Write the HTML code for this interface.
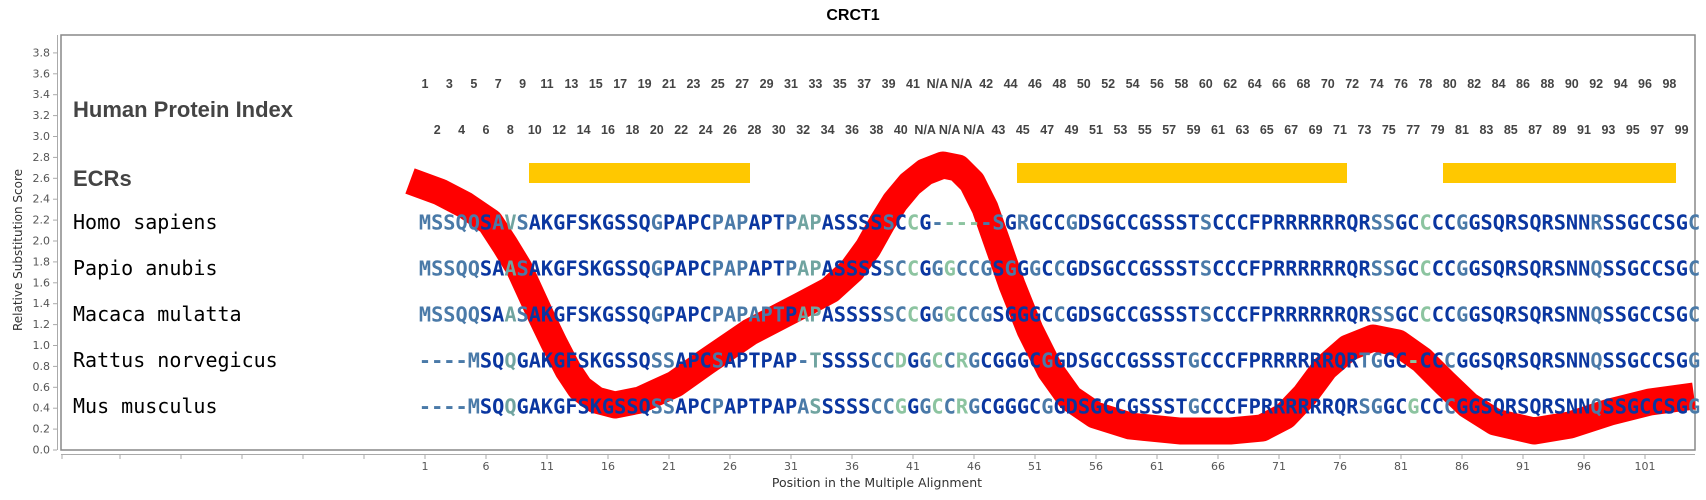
<!DOCTYPE html>
<html><head><meta charset="utf-8"><style>
body{margin:0;background:#fff}
svg{display:block}
.sq{font-family:"DejaVu Sans Mono",monospace;font-weight:bold;font-size:20.27px;fill:#0a36a0}
.b{fill:#4a7aa8}.c{fill:#8cc4a0}.d{fill:#70a4a0}
.lab{font-family:"DejaVu Sans Mono",monospace;font-size:20px;fill:#000}
.idx{font-family:"Liberation Sans",sans-serif;font-weight:bold;font-size:12.5px;fill:#444;text-anchor:middle}
.tk{font-family:"DejaVu Sans",sans-serif;font-size:11px;fill:#555}
</style></head><body>
<svg width="1706" height="500" viewBox="0 0 1706 500" xmlns="http://www.w3.org/2000/svg">
<text x="853" y="20" text-anchor="middle" font-family="Liberation Sans,sans-serif" font-weight="bold" font-size="16" fill="#000">CRCT1</text>
<rect x="61" y="35" width="1634" height="415" fill="#fff" stroke="#888" stroke-width="1.5"/>
<line x1="57.5" y1="35" x2="57.5" y2="450" stroke="#aaa"/>
<g class="tk" text-anchor="end">
<text x="50" y="453.5">0.0</text><text x="50" y="432.6">0.2</text><text x="50" y="411.7">0.4</text><text x="50" y="390.8">0.6</text><text x="50" y="369.9">0.8</text><text x="50" y="349">1.0</text><text x="50" y="328.1">1.2</text><text x="50" y="307.2">1.4</text><text x="50" y="286.3">1.6</text><text x="50" y="265.4">1.8</text><text x="50" y="244.5">2.0</text><text x="50" y="223.6">2.2</text><text x="50" y="202.7">2.4</text><text x="50" y="181.8">2.6</text><text x="50" y="160.9">2.8</text><text x="50" y="140">3.0</text><text x="50" y="119.1">3.2</text><text x="50" y="98.2">3.4</text><text x="50" y="77.3">3.6</text><text x="50" y="56.4">3.8</text>
</g>
<g stroke="#aaa">
<line x1="53" y1="450" x2="57" y2="450"/><line x1="53" y1="429.1" x2="57" y2="429.1"/><line x1="53" y1="408.2" x2="57" y2="408.2"/><line x1="53" y1="387.3" x2="57" y2="387.3"/><line x1="53" y1="366.4" x2="57" y2="366.4"/><line x1="53" y1="345.5" x2="57" y2="345.5"/><line x1="53" y1="324.6" x2="57" y2="324.6"/><line x1="53" y1="303.7" x2="57" y2="303.7"/><line x1="53" y1="282.8" x2="57" y2="282.8"/><line x1="53" y1="261.9" x2="57" y2="261.9"/><line x1="53" y1="241" x2="57" y2="241"/><line x1="53" y1="220.1" x2="57" y2="220.1"/><line x1="53" y1="199.2" x2="57" y2="199.2"/><line x1="53" y1="178.3" x2="57" y2="178.3"/><line x1="53" y1="157.4" x2="57" y2="157.4"/><line x1="53" y1="136.5" x2="57" y2="136.5"/><line x1="53" y1="115.6" x2="57" y2="115.6"/><line x1="53" y1="94.7" x2="57" y2="94.7"/><line x1="53" y1="73.8" x2="57" y2="73.8"/><line x1="53" y1="52.9" x2="57" y2="52.9"/>
</g>
<text transform="translate(22,250) rotate(-90)" text-anchor="middle" font-family="DejaVu Sans,sans-serif" font-size="12" fill="#333">Relative Substitution Score</text>
<line x1="61" y1="454.5" x2="1695" y2="454.5" stroke="#aaa"/>
<g stroke="#aaa">
<line x1="62" y1="454" x2="62" y2="459"/><line x1="120" y1="454" x2="120" y2="459"/><line x1="181" y1="454" x2="181" y2="459"/><line x1="242" y1="454" x2="242" y2="459"/><line x1="303" y1="454" x2="303" y2="459"/><line x1="364" y1="454" x2="364" y2="459"/>
<line x1="425" y1="454" x2="425" y2="459"/><line x1="486" y1="454" x2="486" y2="459"/><line x1="547" y1="454" x2="547" y2="459"/><line x1="608" y1="454" x2="608" y2="459"/><line x1="669" y1="454" x2="669" y2="459"/><line x1="730" y1="454" x2="730" y2="459"/><line x1="791" y1="454" x2="791" y2="459"/><line x1="852" y1="454" x2="852" y2="459"/><line x1="913" y1="454" x2="913" y2="459"/><line x1="974" y1="454" x2="974" y2="459"/><line x1="1035" y1="454" x2="1035" y2="459"/><line x1="1096" y1="454" x2="1096" y2="459"/><line x1="1157" y1="454" x2="1157" y2="459"/><line x1="1218" y1="454" x2="1218" y2="459"/><line x1="1279" y1="454" x2="1279" y2="459"/><line x1="1340" y1="454" x2="1340" y2="459"/><line x1="1401" y1="454" x2="1401" y2="459"/><line x1="1462" y1="454" x2="1462" y2="459"/><line x1="1523" y1="454" x2="1523" y2="459"/><line x1="1584" y1="454" x2="1584" y2="459"/><line x1="1645" y1="454" x2="1645" y2="459"/>
</g>
<g class="tk" text-anchor="middle" font-size="12">
<text x="425" y="470">1</text><text x="486" y="470">6</text><text x="547" y="470">11</text><text x="608" y="470">16</text><text x="669" y="470">21</text><text x="730" y="470">26</text><text x="791" y="470">31</text><text x="852" y="470">36</text><text x="913" y="470">41</text><text x="974" y="470">46</text><text x="1035" y="470">51</text><text x="1096" y="470">56</text><text x="1157" y="470">61</text><text x="1218" y="470">66</text><text x="1279" y="470">71</text><text x="1340" y="470">76</text><text x="1401" y="470">81</text><text x="1462" y="470">86</text><text x="1523" y="470">91</text><text x="1584" y="470">96</text><text x="1645" y="470">101</text>
</g>
<text x="877" y="487" text-anchor="middle" font-family="DejaVu Sans,sans-serif" font-size="12.5" fill="#333">Position in the Multiple Alignment</text>

<text x="73" y="117" font-family="Liberation Sans,sans-serif" font-weight="bold" font-size="22" fill="#444">Human Protein Index</text>
<text x="73" y="186" font-family="Liberation Sans,sans-serif" font-weight="bold" font-size="22" fill="#444">ECRs</text>

<g class="idx">
<text x="425" y="88">1</text><text x="449.4" y="88">3</text><text x="473.8" y="88">5</text><text x="498.2" y="88">7</text><text x="522.6" y="88">9</text><text x="547" y="88">11</text><text x="571.4" y="88">13</text><text x="595.8" y="88">15</text><text x="620.2" y="88">17</text><text x="644.6" y="88">19</text><text x="669" y="88">21</text><text x="693.4" y="88">23</text><text x="717.8" y="88">25</text><text x="742.2" y="88">27</text><text x="766.6" y="88">29</text><text x="791" y="88">31</text><text x="815.4" y="88">33</text><text x="839.8" y="88">35</text><text x="864.2" y="88">37</text><text x="888.6" y="88">39</text><text x="913" y="88">41</text><text x="937.4" y="88">N/A</text><text x="961.8" y="88">N/A</text><text x="986.2" y="88">42</text><text x="1010.6" y="88">44</text><text x="1035" y="88">46</text><text x="1059.4" y="88">48</text><text x="1083.8" y="88">50</text><text x="1108.2" y="88">52</text><text x="1132.6" y="88">54</text><text x="1157" y="88">56</text><text x="1181.4" y="88">58</text><text x="1205.8" y="88">60</text><text x="1230.2" y="88">62</text><text x="1254.6" y="88">64</text><text x="1279" y="88">66</text><text x="1303.4" y="88">68</text><text x="1327.8" y="88">70</text><text x="1352.2" y="88">72</text><text x="1376.6" y="88">74</text><text x="1401" y="88">76</text><text x="1425.4" y="88">78</text><text x="1449.8" y="88">80</text><text x="1474.2" y="88">82</text><text x="1498.6" y="88">84</text><text x="1523" y="88">86</text><text x="1547.4" y="88">88</text><text x="1571.8" y="88">90</text><text x="1596.2" y="88">92</text><text x="1620.6" y="88">94</text><text x="1645" y="88">96</text><text x="1669.4" y="88">98</text>
<text x="437.2" y="134">2</text><text x="461.6" y="134">4</text><text x="486" y="134">6</text><text x="510.4" y="134">8</text><text x="534.8" y="134">10</text><text x="559.2" y="134">12</text><text x="583.6" y="134">14</text><text x="608" y="134">16</text><text x="632.4" y="134">18</text><text x="656.8" y="134">20</text><text x="681.2" y="134">22</text><text x="705.6" y="134">24</text><text x="730" y="134">26</text><text x="754.4" y="134">28</text><text x="778.8" y="134">30</text><text x="803.2" y="134">32</text><text x="827.6" y="134">34</text><text x="852" y="134">36</text><text x="876.4" y="134">38</text><text x="900.8" y="134">40</text><text x="925.2" y="134">N/A</text><text x="949.6" y="134">N/A</text><text x="974" y="134">N/A</text><text x="998.4" y="134">43</text><text x="1022.8" y="134">45</text><text x="1047.2" y="134">47</text><text x="1071.6" y="134">49</text><text x="1096" y="134">51</text><text x="1120.4" y="134">53</text><text x="1144.8" y="134">55</text><text x="1169.2" y="134">57</text><text x="1193.6" y="134">59</text><text x="1218" y="134">61</text><text x="1242.4" y="134">63</text><text x="1266.8" y="134">65</text><text x="1291.2" y="134">67</text><text x="1315.6" y="134">69</text><text x="1340" y="134">71</text><text x="1364.4" y="134">73</text><text x="1388.8" y="134">75</text><text x="1413.2" y="134">77</text><text x="1437.6" y="134">79</text><text x="1462" y="134">81</text><text x="1486.4" y="134">83</text><text x="1510.8" y="134">85</text><text x="1535.2" y="134">87</text><text x="1559.6" y="134">89</text><text x="1584" y="134">91</text><text x="1608.4" y="134">93</text><text x="1632.8" y="134">95</text><text x="1657.2" y="134">97</text><text x="1681.6" y="134">99</text>
</g>

<rect x="529" y="163" width="221" height="20" fill="#ffc800"/>
<rect x="1017" y="163" width="330" height="20" fill="#ffc800"/>
<rect x="1443" y="163" width="233" height="20" fill="#ffc800"/>

<polyline points="410,181 440,192 465,205 490,222 505,245 519,268 530,292 541,316 554,343 568,370 580,388 596,400 615,405 640,400 675,384 706,362 750,332 800,306 830,290 852,270 868,248 882,223 895,202 910,184 925,172 943,165 958,168 972,182 985,208 998,245 1012,285 1030,330 1050,370 1070,398 1095,415 1130,426 1180,431 1230,431 1262,428 1285,416 1305,395 1325,368 1348,348 1373,338 1398,343 1422,360 1445,383 1468,405 1495,422 1534,431 1570,425 1610,412 1650,402 1694,396" fill="none" stroke="#ff0000" stroke-width="27" stroke-linejoin="round"/>

<g class="lab">
<text x="73" y="229">Homo sapiens</text>
<text x="73" y="275">Papio anubis</text>
<text x="73" y="321">Macaca mulatta</text>
<text x="73" y="367">Rattus norvegicus</text>
<text x="73" y="413">Mus musculus</text>
</g>

<g class="sq">
<text x="418.9" y="229.5"><tspan class="b">MSSQQ</tspan>S<tspan class="b">A</tspan><tspan class="d">V</tspan><tspan class="b">S</tspan>AKGFSKGSSQ<tspan class="b">G</tspan>PAPC<tspan class="b">PAP</tspan>APT<tspan class="b">P</tspan><tspan class="d">AP</tspan>ASSSS<tspan class="b">S</tspan>C<tspan class="c">C</tspan>G<tspan class="b">-</tspan><tspan class="c">---</tspan><tspan class="b">-</tspan><tspan class="b">S</tspan>G<tspan class="b">R</tspan>GCC<tspan class="b">G</tspan>DSGCCGSSST<tspan class="b">S</tspan>CCCFPRRRRRRQR<tspan class="b">SS</tspan>GC<tspan class="c">C</tspan>CC<tspan class="b">G</tspan>GSQRSQRSNN<tspan class="b">R</tspan>SSGCCSG<tspan class="b">C</tspan></text>
<text x="418.9" y="275.5"><tspan class="b">MSSQQ</tspan>SA<tspan class="d">A</tspan><tspan class="b">S</tspan>AKGFSKGSSQ<tspan class="b">G</tspan>PAPC<tspan class="b">PAP</tspan>APT<tspan class="b">P</tspan><tspan class="d">AP</tspan>ASSSS<tspan class="b">SC</tspan><tspan class="c">C</tspan>G<tspan class="b">G</tspan><tspan class="c">G</tspan><tspan class="b">CCG</tspan>S<tspan class="b">G</tspan>G<tspan class="b">G</tspan>C<tspan class="b">C</tspan>GDSGCCGSSST<tspan class="b">S</tspan>CCCFPRRRRRRQR<tspan class="b">SS</tspan>GC<tspan class="c">C</tspan>CC<tspan class="b">G</tspan>GSQRSQRSNN<tspan class="b">Q</tspan>SSGCCSG<tspan class="b">C</tspan></text>
<text x="418.9" y="321.5"><tspan class="b">MSSQQ</tspan>SA<tspan class="d">A</tspan><tspan class="b">S</tspan>AKGFSKGSSQ<tspan class="b">G</tspan>PAPC<tspan class="b">PAP</tspan><tspan class="b">APT</tspan>P<tspan class="d">AP</tspan>ASSSS<tspan class="b">SC</tspan><tspan class="c">C</tspan>G<tspan class="b">G</tspan><tspan class="c">G</tspan><tspan class="b">CCG</tspan>SGGGC<tspan class="b">C</tspan>GDSGCCGSSST<tspan class="b">S</tspan>CCCFPRRRRRRQR<tspan class="b">SS</tspan>GC<tspan class="c">C</tspan>CC<tspan class="b">G</tspan>GSQRSQRSNN<tspan class="b">Q</tspan>SSGCCSG<tspan class="b">C</tspan></text>
<text x="418.9" y="367.5"><tspan class="b">----M</tspan>SQ<tspan class="d">Q</tspan>GAKGFSKGSSQ<tspan class="b">SS</tspan>APC<tspan class="b">S</tspan>APTPAP<tspan class="b">-</tspan><tspan class="d">T</tspan>SSSS<tspan class="b">CC</tspan><tspan class="c">D</tspan>G<tspan class="b">G</tspan><tspan class="c">C</tspan><tspan class="b">C</tspan><tspan class="c">R</tspan><tspan class="b">G</tspan>CGGGC<tspan class="b">G</tspan>GDSGCCGSSST<tspan class="b">G</tspan>CCCFPRRRRRRQR<tspan class="b">TG</tspan>GC<tspan class="c">-</tspan>CC<tspan class="b">C</tspan>GGSQRSQRSNN<tspan class="b">Q</tspan>SSGCCSG<tspan class="b">G</tspan></text>
<text x="418.9" y="413.5"><tspan class="b">----M</tspan>SQ<tspan class="d">Q</tspan>GAKGFSKGSSQ<tspan class="b">SS</tspan>APC<tspan class="b">P</tspan>APTPAP<tspan class="b">A</tspan><tspan class="d">S</tspan>SSSS<tspan class="b">CC</tspan><tspan class="c">G</tspan>G<tspan class="b">G</tspan><tspan class="c">C</tspan><tspan class="b">C</tspan><tspan class="c">R</tspan><tspan class="b">G</tspan>CGGGC<tspan class="b">G</tspan>GDSGCCGSSST<tspan class="b">G</tspan>CCCFPRRRRRRQR<tspan class="b">SG</tspan>GC<tspan class="c">G</tspan>CC<tspan class="b">C</tspan>GGSQRSQRSNN<tspan class="b">Q</tspan>SSGCCSG<tspan class="b">G</tspan></text>
</g>
</svg>
</body></html>
